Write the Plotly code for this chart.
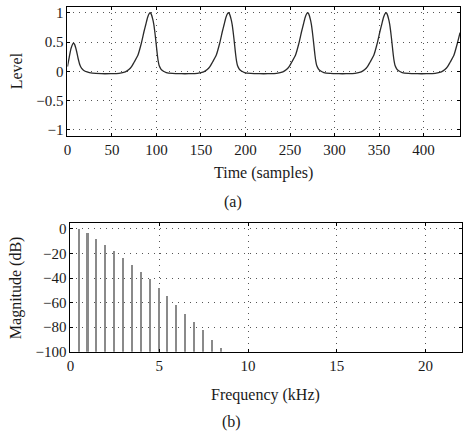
import plotly.graph_objects as go

# ---- Panel (a): waveform ----
time_samples = [0, 2, 4, 6, 7, 8, 10, 12, 14, 16, 18, 22, 28, 38,
                48, 58, 65, 69, 72, 75, 79, 83, 86, 88, 90, 92, 93, 94, 96, 97, 98, 99, 100, 101, 102, 103, 105, 107, 111, 118, 128,
                136, 146, 153, 157, 160, 163, 167, 171, 174, 176, 178, 180, 181, 182, 184, 185, 186, 187, 188, 189, 190, 191, 193, 195, 199, 206, 216,
                225, 235, 242, 246, 249, 252, 256, 260, 263, 265, 267, 269, 270, 271, 273, 274, 275, 276, 277, 278, 279, 280, 282, 284, 288, 295, 305,
                313, 323, 330, 334, 337, 340, 344, 348, 351, 353, 355, 357, 358, 359, 361, 362, 363, 364, 365, 366, 367, 368, 370, 372, 376, 383, 393,
                403, 413, 420, 424, 427, 430, 434, 438, 441]
level = [0.08, 0.24, 0.39, 0.47, 0.48, 0.46, 0.36, 0.22, 0.11, 0.05, 0.02, -0.01, -0.03, -0.04,
         -0.04, -0.035, -0.01, 0.03, 0.08, 0.16, 0.27, 0.48, 0.68, 0.80, 0.92, 0.99, 1.0, 0.98, 0.88, 0.80, 0.69, 0.56, 0.42, 0.28, 0.17, 0.10, 0.04, 0.01, -0.02, -0.035, -0.04,
         -0.04, -0.035, -0.01, 0.03, 0.08, 0.16, 0.27, 0.48, 0.68, 0.80, 0.92, 0.99, 1.0, 0.98, 0.88, 0.80, 0.69, 0.56, 0.42, 0.28, 0.17, 0.10, 0.04, 0.01, -0.02, -0.035, -0.04,
         -0.04, -0.035, -0.01, 0.03, 0.08, 0.16, 0.27, 0.48, 0.68, 0.80, 0.92, 0.99, 1.0, 0.98, 0.88, 0.80, 0.69, 0.56, 0.42, 0.28, 0.17, 0.10, 0.04, 0.01, -0.02, -0.035, -0.04,
         -0.04, -0.035, -0.01, 0.03, 0.08, 0.16, 0.27, 0.48, 0.68, 0.80, 0.92, 0.99, 1.0, 0.98, 0.88, 0.80, 0.69, 0.56, 0.42, 0.28, 0.17, 0.10, 0.04, 0.01, -0.02, -0.035, -0.04,
         -0.04, -0.035, -0.01, 0.03, 0.08, 0.16, 0.27, 0.48, 0.66]

time_ticks = [0, 50, 100, 150, 200, 250, 300, 350, 400]
level_ticks = [-1, -0.5, 0, 0.5, 1]
level_tick_text = ["\u22121", "\u22120.5", "0", "0.5", "1"]

# ---- Panel (b): harmonic magnitudes ----
freq_khz = [0.5, 1.0, 1.5, 2.0, 2.5, 3.0, 3.5, 4.0, 4.5, 5.0, 5.5, 6.0, 6.5, 7.0, 7.5, 8.0, 8.5]
magnitude_db = [0, -3.5, -8, -12.8, -18.1, -23.4, -29.3, -35.1, -40.2, -48.1, -54.8, -62, -69.1, -76, -82.5, -90.2, -96.8]
floor_db = -100

freq_ticks = [0, 5, 10, 15, 20]
mag_ticks = [-100, -80, -60, -40, -20, 0]
mag_tick_text = ["\u2212100", "\u221280", "\u221260", "\u221240", "\u221220", "0"]

W, H = 465, 436
FONT = "Liberation Serif"
TXT = "#1a1a1a"

fig = go.Figure()
fig.add_trace(go.Scatter(x=time_samples, y=level, mode="lines", line=dict(color="#2a2a2a", width=1.3, shape="spline", smoothing=0.6),
                         xaxis="x", yaxis="y", showlegend=False, hoverinfo="skip"))
fig.add_trace(go.Bar(x=freq_khz, y=[m - floor_db for m in magnitude_db], base=floor_db, width=0.09,
                     marker=dict(color="#8a8a8a", line=dict(width=0)), xaxis="x2", yaxis="y2", showlegend=False))

axis_common = dict(showline=True, linecolor="black", linewidth=1, mirror="allticks", ticks="inside", ticklen=3,
                   tickcolor="black", showgrid=True, gridcolor="#555555", griddash="1px,5px", gridwidth=1,
                   zeroline=False, tickfont=dict(family=FONT, size=15, color=TXT))

fig.update_layout(
    width=W, height=H, margin=dict(l=0, r=0, t=0, b=0),
    paper_bgcolor="white", plot_bgcolor="white",
    font=dict(family=FONT, color=TXT, size=15),
    bargap=0,
    xaxis=dict(axis_common, domain=[64 / W, 460 / W], range=[0, 441], tickvals=time_ticks, anchor="y"),
    yaxis=dict(axis_common, domain=[1 - 137 / H, 1 - 5 / H], range=[-1.1, 1.1], tickvals=level_ticks,
               ticktext=level_tick_text, anchor="x"),
    xaxis2=dict(axis_common, domain=[67 / W, 462 / W], range=[0, 22.05], tickvals=freq_ticks, anchor="y2"),
    yaxis2=dict(axis_common, domain=[1 - 358 / H, 1 - 226 / H], range=[-100, 5], tickvals=mag_ticks,
                ticktext=mag_tick_text, anchor="x2"),
)

ann = dict(xref="paper", yref="paper", showarrow=False, font=dict(family=FONT, size=16, color=TXT))
fig.add_annotation(ann, text="Time (samples)", x=262 / W, y=1 - 175 / H, xanchor="center", yanchor="middle")
fig.add_annotation(ann, text="(a)", x=231 / W, y=1 - 205 / H, xanchor="center", yanchor="middle")
fig.add_annotation(ann, text="Frequency (kHz)", x=264 / W, y=1 - 402 / H, xanchor="center", yanchor="middle")
fig.add_annotation(ann, text="(b)", x=229 / W, y=1 - 430 / H, xanchor="center", yanchor="middle")
fig.add_annotation(ann, text="Level", x=12 / W, y=1 - 70 / H, xanchor="center", yanchor="middle", textangle=-90)
fig.add_annotation(ann, text="Magnitude (dB)", x=12 / W, y=1 - 292 / H, xanchor="center", yanchor="middle", textangle=-90)

fig.write_html("out.html")
